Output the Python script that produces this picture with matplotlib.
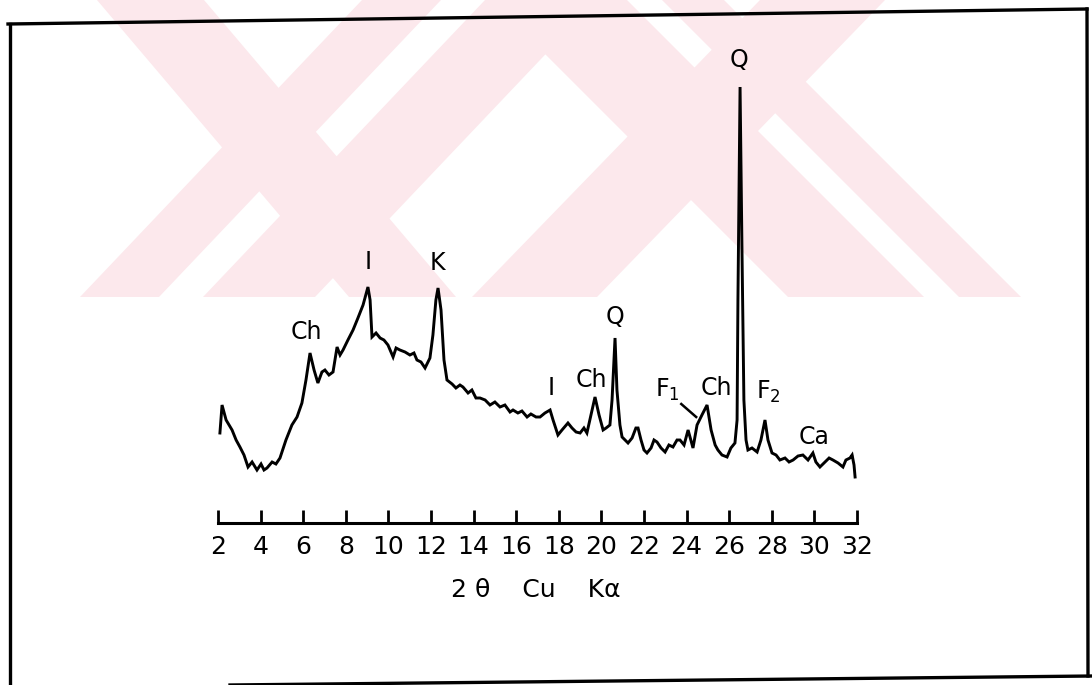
import numpy as np
import matplotlib
matplotlib.use("Agg")
import matplotlib.pyplot as plt
from matplotlib.patches import Polygon
from matplotlib.lines import Line2D

# diffraction trace: (2-theta in degrees, intensity in arbitrary units)
trace = [
    (2.09, 47), (2.19, 75), (2.38, 60), (2.66, 50), (2.85, 40), (3.03, 33), (3.22, 25),
    (3.41, 13), (3.60, 18), (3.83, 10), (4.02, 16), (4.16, 10), (4.30, 12), (4.54, 18),
    (4.72, 16), (4.91, 22), (5.19, 40), (5.47, 55), (5.71, 63), (5.94, 77), (6.13, 100),
    (6.32, 127), (6.51, 110), (6.69, 97), (6.88, 108), (7.02, 110), (7.21, 105), (7.40, 108),
    (7.59, 133), (7.73, 125), (7.87, 130), (8.10, 140), (8.34, 150), (8.57, 162), (8.81, 175),
    (9.04, 193), (9.14, 180), (9.23, 143), (9.42, 147), (9.61, 142), (9.79, 140), (9.98, 135),
    (10.22, 123), (10.36, 132), (10.54, 130), (10.78, 128), (11.01, 125), (11.20, 127),
    (11.34, 120), (11.53, 118), (11.72, 112), (11.95, 122), (12.09, 145), (12.23, 180),
    (12.33, 192), (12.47, 170), (12.61, 120), (12.75, 100), (12.99, 96), (13.17, 92),
    (13.36, 95), (13.50, 93), (13.74, 87), (13.92, 90), (14.11, 82), (14.30, 82), (14.54, 80),
    (14.77, 75), (15.00, 78), (15.24, 73), (15.47, 75), (15.71, 68), (15.85, 70), (16.08, 67),
    (16.27, 69), (16.51, 63), (16.69, 66), (16.93, 63), (17.12, 63), (17.35, 67), (17.59, 70),
    (17.73, 60), (17.96, 45), (18.15, 50), (18.43, 57), (18.62, 52), (18.81, 48), (19.00, 47),
    (19.18, 52), (19.32, 47), (19.51, 65), (19.70, 83), (19.89, 65), (20.08, 50), (20.22, 52),
    (20.40, 55), (20.50, 80), (20.64, 142), (20.73, 90), (20.87, 55), (20.97, 43), (21.11, 40),
    (21.25, 37), (21.44, 42), (21.62, 52), (21.72, 52), (21.86, 40), (22.00, 30), (22.14, 27),
    (22.33, 32), (22.47, 40), (22.61, 38), (22.80, 32), (22.99, 28), (23.17, 35), (23.36, 33),
    (23.55, 40), (23.69, 40), (23.88, 35), (24.07, 50), (24.30, 32), (24.49, 55), (24.72, 65),
    (24.96, 75), (25.15, 50), (25.34, 35), (25.47, 30), (25.66, 25), (25.90, 23), (26.08, 32),
    (26.27, 37), (26.37, 60), (26.41, 180), (26.51, 393), (26.60, 230), (26.69, 80),
    (26.79, 40), (26.88, 30), (27.07, 32), (27.31, 28), (27.49, 40), (27.68, 60), (27.82, 40),
    (28.01, 27), (28.20, 25), (28.38, 20), (28.62, 22), (28.81, 18), (29.00, 20), (29.23, 24),
    (29.46, 25), (29.70, 20), (29.93, 27), (30.07, 18), (30.26, 13), (30.50, 18), (30.69, 22),
    (30.87, 20), (31.11, 17), (31.34, 13), (31.48, 20), (31.67, 22), (31.77, 25), (31.86, 15),
    (31.91, 3),
]
two_theta = [p[0] for p in trace]
intensity = [p[1] for p in trace]

ruler_ticks = list(range(2, 33, 2))

# phase labels: text, 2-theta, height
phase_text = ["Ch", "I", "K", "I", "Ch", "Q", "F$_\\mathregular{1}$", "Ch",
              "F$_\\mathregular{2}$", "Ca", "Q"]
phase_theta = [6.15, 9.05, 12.30, 17.63, 19.55, 20.63, 23.10, 25.40, 27.85, 30.00, 26.45]
phase_height = [148, 218, 217, 92, 100, 163, 90, 92, 88, 43, 420]

W, H = 1092, 685
px_per_deg = 21.3
x0_px = 218        # pixel of 2-theta = 2
base_px = 480      # pixel row of intensity 0

fig = plt.figure(figsize=(W / 100, H / 100), dpi=100)
fig.patch.set_facecolor("white")

def fpt(x, y):
    return (x / W, 1 - y / H)

# faint watermark of the scanned page (two striped crosses)
pink = "#fce8ec"
bands = [
    [(97, 0), (204, 0), (456, 297), (349, 297)],
    [(362, 0), (441, 0), (159, 297), (80, 297)],
    [(485, 0), (597, 0), (315, 297), (203, 297)],
    [(491, 0), (627, 0), (924, 297), (788, 297)],
    [(662, 0), (724, 0), (1021, 297), (959, 297)],
    [(760, 0), (885, 0), (597, 297), (472, 297)],
]
for b in bands:
    fig.add_artist(Polygon([fpt(*p) for p in b], closed=True, transform=fig.transFigure,
                           facecolor=pink, edgecolor="none", zorder=0))

ax = fig.add_axes([0, 0, 1, 1])
ax.set_xlim(2 - x0_px / px_per_deg, 2 + (W - x0_px) / px_per_deg)
ax.set_ylim(base_px - H, base_px)
ax.axis("off")
ax.patch.set_alpha(0)

ax.plot(two_theta, intensity, color="black", lw=2.1, solid_joinstyle="miter")

for t, x, y in zip(phase_text, phase_theta, phase_height):
    ax.text(x, y, t, fontsize=17, ha="center", va="center", color="black")
ax.plot([23.75, 24.45], [76, 63], color="black", lw=1.8)

# ruler along the bottom
ruler_y = 523
rax = fig.add_axes([0, 1 - ruler_y / H, 1, 0.05])
rax.set_xlim(ax.get_xlim())
rax.patch.set_alpha(0)
for s in ["top", "left", "right"]:
    rax.spines[s].set_visible(False)
rax.spines["bottom"].set_bounds(2, 32)
rax.spines["bottom"].set_linewidth(2.2)
rax.set_yticks([])
rax.set_xticks(ruler_ticks)
rax.tick_params(axis="x", direction="in", length=9.5, width=2.0, pad=9, labelsize=18)
rax.set_xlabel("2 θ    Cu    Kα", fontsize=18)
rax.xaxis.set_label_coords(536 / W, -1.6)

# page frame
frame = [((8, 24), (1087, 9)), ((10, 24), (10, 685)), ((1087, 9), (1088, 676)),
         ((230, 685), (1092, 676))]
for a, b in frame:
    fig.add_artist(Line2D([a[0] / W, b[0] / W], [1 - a[1] / H, 1 - b[1] / H],
                          transform=fig.transFigure, color="black", lw=2.4))

fig.savefig("out.png", dpi=100)
